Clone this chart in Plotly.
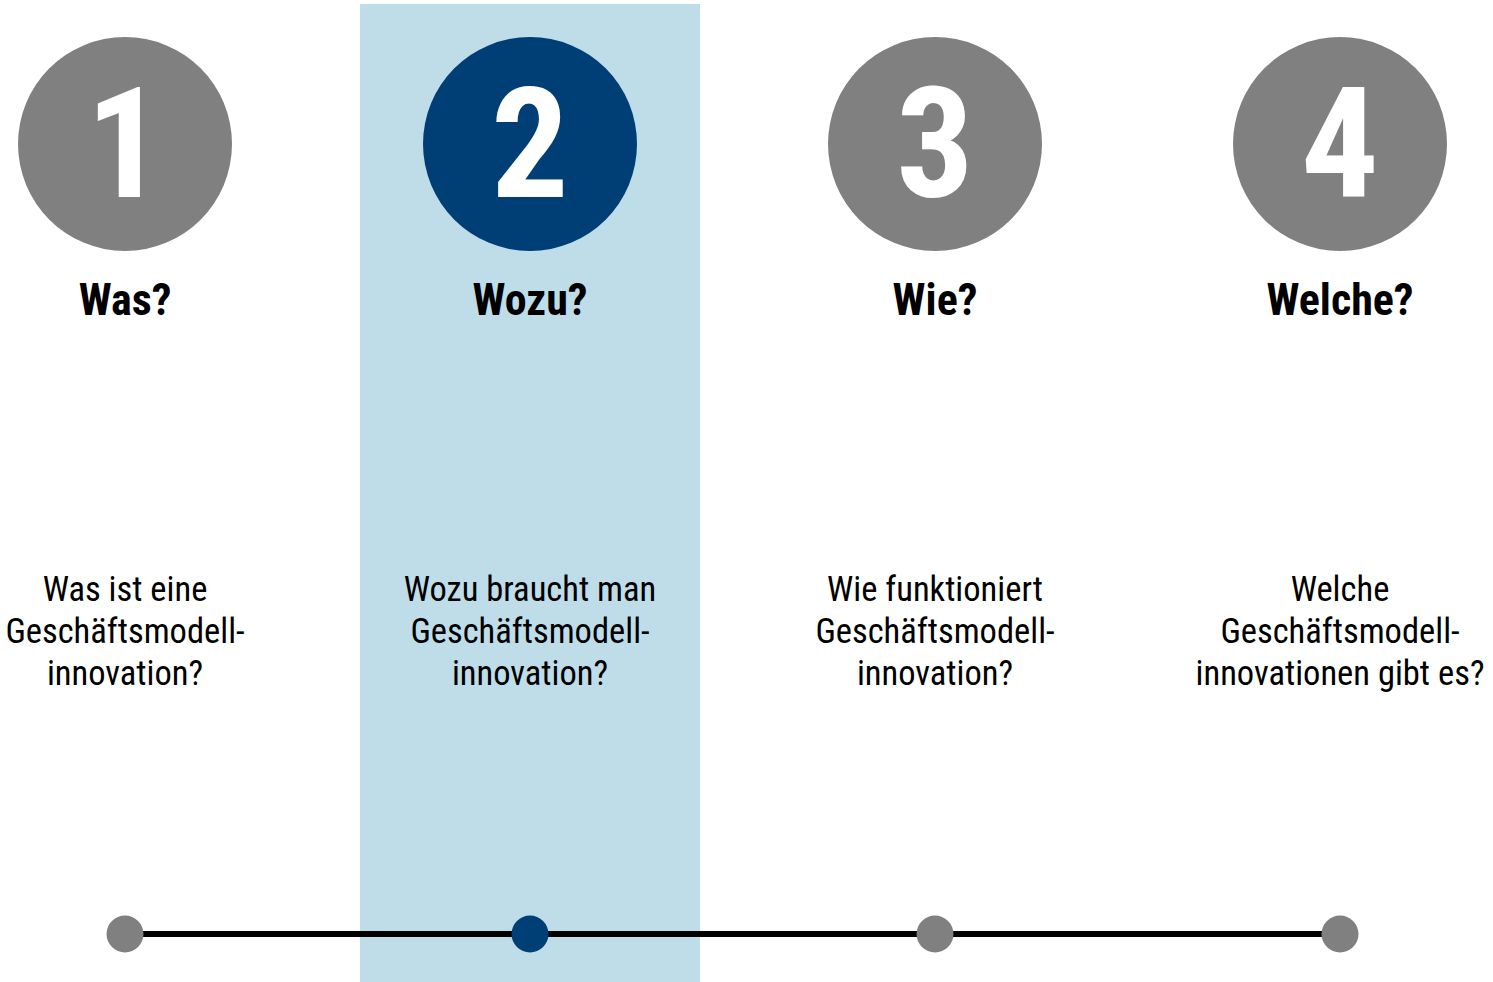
import plotly.graph_objects as go

steps = ["1", "2", "3", "4"]
titles = ["Was?", "Wozu?", "Wie?", "Welche?"]
descriptions = [
    ["Was ist eine", "Geschäftsmodell-", "innovation?"],
    ["Wozu braucht man", "Geschäftsmodell-", "innovation?"],
    ["Wie funktioniert", "Geschäftsmodell-", "innovation?"],
    ["Welche", "Geschäftsmodell-", "innovationen gibt es?"],
]
active_index = 1

GRAY = "#808080"
NAVY = "#003F75"
HILITE = "#BEDDE9"
FONT = "Roboto Condensed, Liberation Sans Narrow, DejaVu Sans Condensed, Roboto, sans-serif"

xs = list(range(len(steps)))
colors = [NAVY if i == active_index else GRAY for i in xs]

fig = go.Figure()

# highlight column
fig.add_shape(type="rect", x0=active_index - 0.42, x1=active_index + 0.42,
              y0=4, y1=982, xref="x", yref="y", fillcolor=HILITE,
              line_width=0, layer="below")

# big circles
fig.add_trace(go.Scatter(
    x=xs, y=[144] * len(xs), mode="markers",
    marker=dict(size=214, color=colors, line_width=0),
    hoverinfo="skip"))
# numbers
fig.add_trace(go.Scatter(
    x=xs, y=[158] * len(xs), mode="text",
    text=steps, textposition="middle center",
    textfont=dict(family=FONT, size=154, color="white", weight="bold"),
    hoverinfo="skip"))

# titles
fig.add_trace(go.Scatter(
    x=xs, y=[304] * len(xs), mode="text", text=titles,
    textposition="middle center",
    textfont=dict(family=FONT, size=44, color="black", weight="bold"),
    hoverinfo="skip"))

# description lines
for li, yy in enumerate([592, 634, 676]):
    fig.add_trace(go.Scatter(
        x=xs, y=[yy] * len(xs), mode="text",
        text=[d[li] for d in descriptions], textposition="middle center",
        textfont=dict(family=FONT, size=34.5, color="black"),
        hoverinfo="skip"))

# timeline
fig.add_trace(go.Scatter(
    x=[xs[0], xs[-1]], y=[934, 934], mode="lines",
    line=dict(color="black", width=6), hoverinfo="skip"))
fig.add_trace(go.Scatter(
    x=xs, y=[934] * len(xs), mode="markers",
    marker=dict(size=37, color=colors, line_width=0), hoverinfo="skip"))

fig.update_layout(
    width=1493, height=982, margin=dict(l=0, r=0, t=0, b=0),
    paper_bgcolor="white", plot_bgcolor="white", showlegend=False,
    xaxis=dict(range=[-125 / 405, (1493 - 125) / 405], visible=False, fixedrange=True),
    yaxis=dict(range=[982, 0], visible=False, fixedrange=True),
)

fig.write_html("out.html", post_script="document.body.style.margin='0';",
               config={"displayModeBar": False})
